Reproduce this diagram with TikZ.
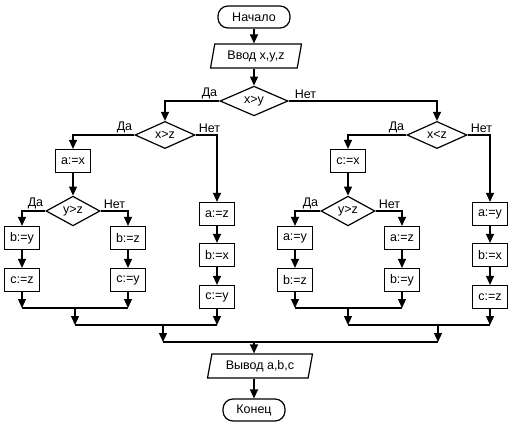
\documentclass[tikz,border=0pt]{standalone}
\usepackage{fontspec}
\setmainfont{Liberation Sans}
\usetikzlibrary{shapes.geometric,arrows.meta}
\begin{document}
\begin{tikzpicture}[x=1pt,y=-1pt,
  every node/.style={font=\fontsize{12.5}{14}\selectfont},
  line/.style={line width=1.2pt},
  arr/.style={line width=1.2pt,-{Triangle[length=9pt,width=8pt]}},
  proc/.style={draw,line width=1.2pt,minimum width=35pt,minimum height=23pt,inner sep=1pt},
  term/.style={draw,line width=1.2pt,rounded corners=10pt,minimum height=22pt,inner sep=2pt},
  io/.style={draw,line width=1.2pt,trapezium,trapezium left angle=72,trapezium right angle=108,trapezium stretches body,minimum height=24pt,inner sep=1pt},
  dec/.style={draw,line width=1.2pt,diamond,inner sep=0pt,minimum width=58pt,minimum height=27pt},
  lbl/.style={inner sep=1pt}
]
\useasboundingbox (0,0) rectangle (514,429);
\fill[white] (0,0) rectangle (514,429);

\node[term,minimum width=72pt] (start) at (254,17) {Начало};
\node[io,minimum width=91pt] (in) at (256,56) {Ввод x,y,z};
\node[dec,minimum width=68pt,minimum height=28pt] (d1) at (254,101) {x>y};
\node[dec,minimum width=60pt,minimum height=26pt] (d2) at (165,135) {x>z};
\node[dec,minimum width=60pt,minimum height=26pt] (d3) at (437,135) {x<z};
\node[proc] (ax) at (73,161) {a:=x};
\node[dec,minimum width=54pt,minimum height=29pt] (d4) at (73,211) {y>z};
\node[proc] (by1) at (22,238) {b:=y};
\node[proc] (cz1) at (22,280) {c:=z};
\node[proc] (bz1) at (128,238) {b:=z};
\node[proc] (cy1) at (128,280) {c:=y};
\node[proc] (az1) at (217,214) {a:=z};
\node[proc] (bx1) at (217,255) {b:=x};
\node[proc] (cy2) at (217,297) {c:=y};
\node[proc] (cx) at (348,161) {c:=x};
\node[dec,minimum width=54pt,minimum height=29pt] (d5) at (348,211) {y>z};
\node[proc] (ay2) at (295,238) {a:=y};
\node[proc] (bz2) at (295,280) {b:=z};
\node[proc] (az2) at (402,238) {a:=z};
\node[proc] (by2) at (402,280) {b:=y};
\node[proc] (ay3) at (490,214) {a:=y};
\node[proc] (bx3) at (490,255) {b:=x};
\node[proc] (cz3) at (490,297) {c:=z};
\node[io,minimum width=105pt] (out) at (260,366) {Вывод a,b,c};
\node[term,minimum width=62pt] (end) at (254,410) {Конец};

% labels
\node[lbl,anchor=south east] (l1) at ([xshift=-1pt,yshift=1pt]d1.west) {Да};
\node[lbl,anchor=south west] (l2) at ([xshift=5pt,yshift=1pt]d1.east) {Нет};
\node[lbl,anchor=south east] (l3) at ([xshift=-1pt,yshift=1pt]d2.west) {Да};
\node[lbl,anchor=south west] (l4) at ([xshift=2pt,yshift=1pt]d2.east) {Нет};
\node[lbl,anchor=south east] (l5) at ([xshift=-1pt,yshift=1pt]d3.west) {Да};
\node[lbl,anchor=south west] (l6) at ([xshift=2pt,yshift=1pt]d3.east) {Нет};
\node[lbl,anchor=south east] (l7) at ([xshift=-1pt,yshift=1pt]d4.west) {Да};
\node[lbl,anchor=south west] (l8) at ([xshift=2pt,yshift=1pt]d4.east) {Нет};
\node[lbl,anchor=south east] (l9) at ([xshift=-1pt,yshift=1pt]d5.west) {Да};
\node[lbl,anchor=south west] (l10) at ([xshift=2pt,yshift=1pt]d5.east) {Нет};

% main flow
\draw[arr] (start) -- (start |- in.north);
\draw[arr] (in.south -| d1) -- (d1);
\draw[arr] (d1.west) -| (d2.north);
\draw[arr] (d1.east) -| (d3.north);
% left branch
\draw[arr] (d2.west) -| (ax.north);
\draw[arr] (d2.east) -| (az1.north);
\draw[arr] (ax) -- (d4);
\draw[arr] (d4.west) -| (by1.north);
\draw[arr] (d4.east) -| (bz1.north);
\draw[arr] (by1) -- (cz1);
\draw[arr] (bz1) -- (cy1);
\draw[arr] (az1) -- (bx1);
\draw[arr] (bx1) -- (cy2);
% right branch
\draw[arr] (d3.west) -| (cx.north);
\draw[arr] (d3.east) -| (ay3.north);
\draw[arr] (cx) -- (d5);
\draw[arr] (d5.west) -| (ay2.north);
\draw[arr] (d5.east) -| (az2.north);
\draw[arr] (ay2) -- (bz2);
\draw[arr] (az2) -- (by2);
\draw[arr] (ay3) -- (bx3);
\draw[arr] (bx3) -- (cz3);

% merges
\coordinate (m1a) at (75,308);
\coordinate (m2a) at (163,325);
\coordinate (m1b) at (348,308);
\coordinate (m2b) at (438,325);
\coordinate (m3) at (254,342);
\draw[arr] (cz1) -- (cz1 |- m1a);
\draw[arr] (cy1) -- (cy1 |- m1a);
\draw[line] (cz1 |- m1a) -- (cy1 |- m1a);
\draw[arr] (m1a) -- (m1a |- m2a);
\draw[arr] (cy2) -- (cy2 |- m2a);
\draw[line] (m1a |- m2a) -- (cy2 |- m2a);
\draw[arr] (bz2) -- (bz2 |- m1b);
\draw[arr] (by2) -- (by2 |- m1b);
\draw[line] (bz2 |- m1b) -- (by2 |- m1b);
\draw[arr] (m1b) -- (m1b |- m2b);
\draw[arr] (cz3) -- (cz3 |- m2b);
\draw[line] (m1b |- m2b) -- (cz3 |- m2b);
\draw[arr] (m2a) -- (m2a |- m3);
\draw[arr] (m2b) -- (m2b |- m3);
\draw[line] (m2a |- m3) -- (m2b |- m3);
\draw[arr] (m3) -- (m3 |- out.north);
\draw[arr] (out.south -| end) -- (end);
\end{tikzpicture}
\end{document}
